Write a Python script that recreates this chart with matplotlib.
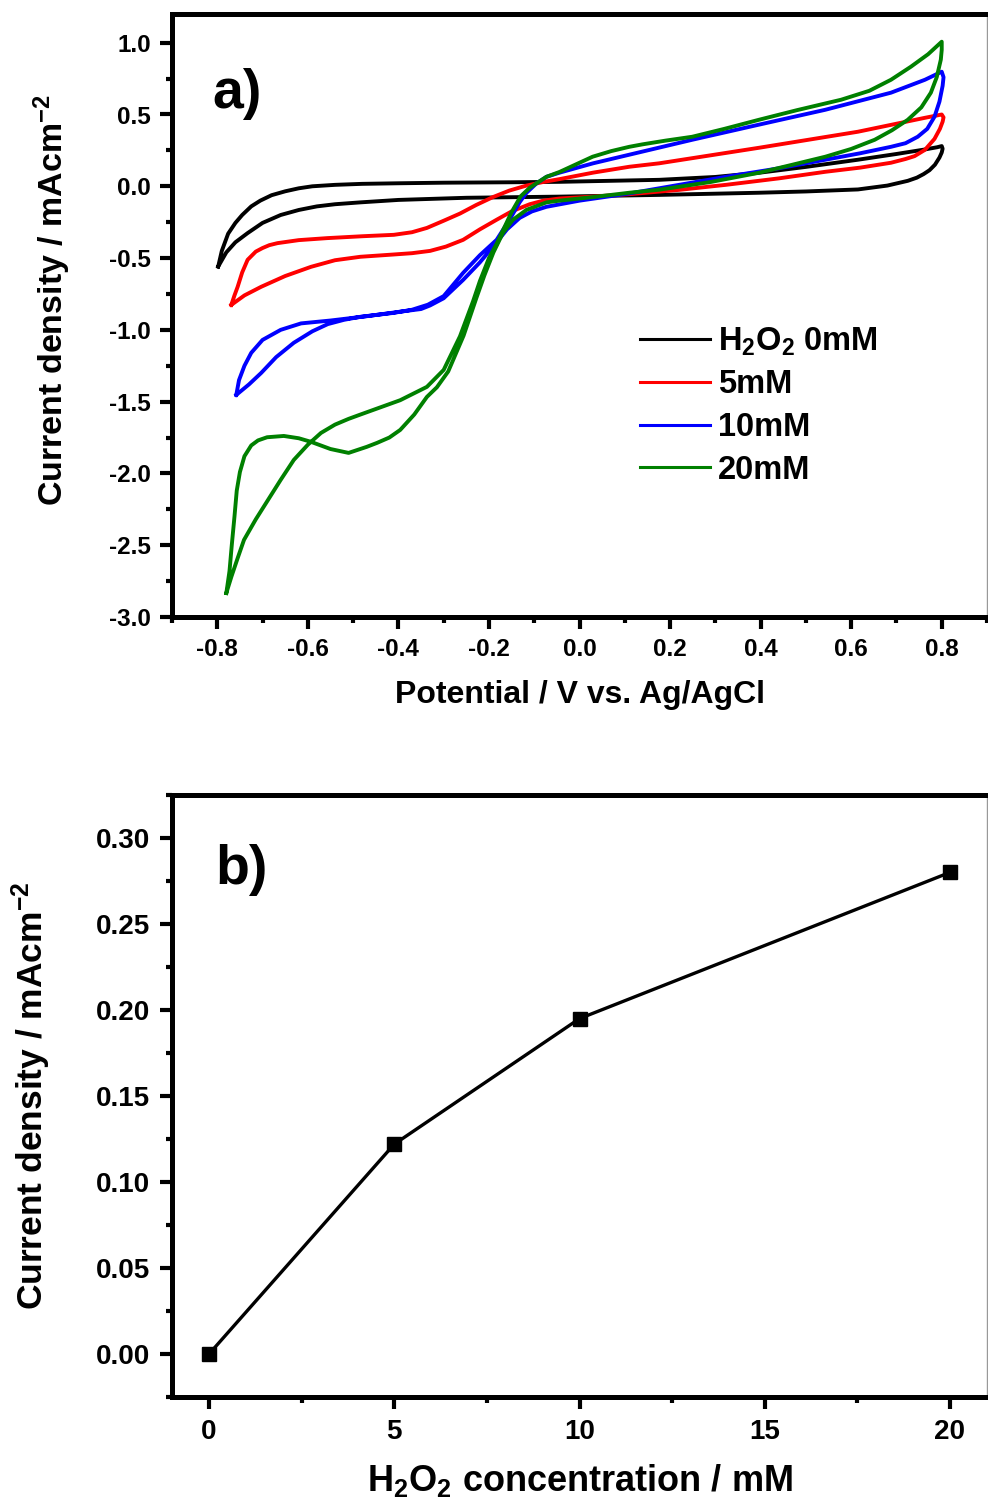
import numpy as np
import matplotlib
matplotlib.use("Agg")
import matplotlib.pyplot as plt
from matplotlib.ticker import MultipleLocator, FormatStrFormatter

plt.rcParams["font.family"] = ["Liberation Sans", "DejaVu Sans"]
plt.rcParams["font.weight"] = "bold"
plt.rcParams["axes.unicode_minus"] = False
plt.rcParams["mathtext.fontset"] = "custom"
plt.rcParams["mathtext.rm"] = "Liberation Sans:bold"
plt.rcParams["mathtext.bf"] = "Liberation Sans:bold"
plt.rcParams["mathtext.it"] = "Liberation Sans:bold"
plt.rcParams["mathtext.default"] = "rm"

cv_labels = ["H$_2$O$_2$ 0mM", "5mM", "10mM", "20mM"]
cv_colors = ["#000000", "#ff0000", "#0000ff", "#008000"]

cv0_x = [-0.798, -0.790, -0.776, -0.760, -0.745, -0.725, -0.705, -0.68, -0.65, -0.62, -0.59,
         -0.54, -0.48, -0.40, -0.30, -0.15, -0.044, 0.176, 0.30, 0.396, 0.50,
         0.615, 0.70, 0.76, 0.790, 0.800,
         0.802, 0.800, 0.795, 0.785, 0.773, 0.760, 0.745, 0.725, 0.68, 0.615, 0.50, 0.396,
         0.176, -0.044, -0.25, -0.40, -0.484, -0.54, -0.58, -0.62, -0.66, -0.70, -0.733,
         -0.760, -0.780, -0.798]
cv0_y = [-0.559, -0.45, -0.330, -0.255, -0.200, -0.140, -0.100, -0.062, -0.035, -0.014, 0.000,
         0.010, 0.017, 0.021, 0.025, 0.028, 0.031, 0.045, 0.065, 0.094, 0.135,
         0.185, 0.225, 0.255, 0.272, 0.280,
         0.262, 0.235, 0.200, 0.150, 0.112, 0.085, 0.060, 0.038, 0.005, -0.022, -0.036, -0.045,
         -0.060, -0.072, -0.080, -0.095, -0.112, -0.125, -0.140, -0.165, -0.200, -0.255, -0.326,
         -0.390, -0.460, -0.559]

cv5_x = [-0.769, -0.762, -0.755, -0.745, -0.733, -0.715, -0.700, -0.685, -0.667, -0.62, -0.557,
         -0.48, -0.410, -0.370, -0.337, -0.300, -0.264, -0.228, -0.191, -0.155,
         -0.117, -0.080, -0.044, 0.030, 0.110, 0.176, 0.396, 0.615, 0.763, 0.800,
         0.804, 0.802, 0.796, 0.784, 0.763, 0.740, 0.720, 0.688, 0.620, 0.543, 0.440, 0.323,
         0.220, 0.110, 0.030, -0.044, -0.080, -0.110, -0.150,
         -0.183, -0.220, -0.257, -0.295, -0.330, -0.370, -0.410, -0.484, -0.540, -0.593,
         -0.650, -0.703, -0.740, -0.769]
cv5_y = [-0.826, -0.760, -0.700, -0.600, -0.512, -0.455, -0.430, -0.410, -0.396, -0.375, -0.361,
         -0.348, -0.338, -0.320, -0.290, -0.240, -0.190, -0.130, -0.075, -0.030,
         0.005, 0.030, 0.050, 0.095, 0.136, 0.160, 0.268, 0.380, 0.477, 0.500,
         0.480, 0.450, 0.400, 0.330, 0.254, 0.210, 0.190, 0.164, 0.130, 0.101, 0.055, 0.010,
         -0.025, -0.055, -0.072, -0.085, -0.100, -0.125, -0.175,
         -0.233, -0.300, -0.373, -0.420, -0.450, -0.466, -0.475, -0.491, -0.515, -0.561,
         -0.625, -0.700, -0.760, -0.826]

cv10_x = [-0.758, -0.730, -0.703, -0.670, -0.631, -0.590, -0.556, -0.520, -0.484, -0.411,
          -0.370, -0.335, -0.300, -0.257, -0.220, -0.183, -0.154, -0.132, -0.117, -0.095,
          -0.073, -0.044, 0.030, 0.110, 0.249, 0.396, 0.543, 0.688, 0.763, 0.800,
          0.804, 0.802, 0.795, 0.784, 0.768, 0.747, 0.720, 0.688, 0.620, 0.543, 0.440, 0.323,
          0.220, 0.110, 0.000, -0.073, -0.105, -0.132, -0.160, -0.183, -0.220, -0.257,
          -0.300, -0.330, -0.350, -0.400, -0.470, -0.550, -0.615, -0.660, -0.700, -0.725,
          -0.740, -0.752, -0.758]
cv10_y = [-1.453, -1.380, -1.300, -1.190, -1.090, -1.010, -0.960, -0.930, -0.909, -0.882,
          -0.860, -0.825, -0.765, -0.603, -0.480, -0.373, -0.230, -0.110, -0.045, 0.020,
          0.066, 0.095, 0.160, 0.220, 0.324, 0.429, 0.533, 0.652, 0.742, 0.798,
          0.760, 0.700, 0.590, 0.484, 0.400, 0.345, 0.300, 0.275, 0.230, 0.185, 0.125, 0.066,
          0.010, -0.050, -0.100, -0.143, -0.175, -0.220, -0.300, -0.390, -0.530, -0.652,
          -0.780, -0.830, -0.855, -0.875, -0.905, -0.935, -0.955, -1.000, -1.070, -1.160,
          -1.250, -1.350, -1.453]

cv20_x = [-0.780, -0.769, -0.755, -0.741, -0.715, -0.688, -0.660, -0.631, -0.600, -0.571,
          -0.540, -0.510, -0.484, -0.440, -0.396, -0.337, -0.300, -0.264, -0.235, -0.220,
          -0.200, -0.183, -0.165, -0.150, -0.130, -0.110, -0.073, -0.044, 0.000, 0.029,
          0.070, 0.110, 0.139, 0.190, 0.249, 0.320, 0.396, 0.480, 0.578, 0.640, 0.688, 0.732,
          0.770, 0.800,
          0.800, 0.798, 0.789, 0.776, 0.755, 0.725, 0.690, 0.652, 0.600, 0.543, 0.470, 0.396,
          0.290, 0.176, 0.110, 0.030, -0.044, -0.073, -0.117, -0.147, -0.169, -0.190,
          -0.210, -0.228, -0.256, -0.290, -0.315, -0.337, -0.365, -0.396, -0.420, -0.447,
          -0.470, -0.510, -0.550, -0.593, -0.620, -0.653, -0.690, -0.710, -0.725, -0.740,
          -0.750, -0.757, -0.762, -0.768, -0.773, -0.780]
cv20_y = [-2.833, -2.721, -2.590, -2.463, -2.320, -2.185, -2.045, -1.906, -1.800, -1.718,
          -1.660, -1.620, -1.590, -1.540, -1.490, -1.397, -1.279, -1.045, -0.800, -0.660,
          -0.500, -0.400, -0.280, -0.180, -0.070, -0.010, 0.066, 0.100, 0.164, 0.206,
          0.245, 0.275, 0.292, 0.318, 0.345, 0.400, 0.463, 0.530, 0.603, 0.665, 0.742, 0.833,
          0.920, 1.007,
          0.950, 0.882, 0.760, 0.652, 0.550, 0.463, 0.390, 0.324, 0.260, 0.206, 0.150, 0.094,
          0.030, -0.024, -0.045, -0.075, -0.100, -0.112, -0.164, -0.233, -0.324, -0.460,
          -0.620, -0.780, -1.040, -1.290, -1.400, -1.467, -1.590, -1.697, -1.750, -1.787,
          -1.815, -1.857, -1.830, -1.780, -1.755, -1.739, -1.748, -1.770, -1.805, -1.880,
          -1.990, -2.120, -2.300, -2.500, -2.680, -2.833]

cv_x = [cv0_x, cv5_x, cv10_x, cv20_x]
cv_y = [cv0_y, cv5_y, cv10_y, cv20_y]

# ── panel b: calibration ─────────────────────────────────────────────────────
conc = [0, 5, 10, 20]
current = [0.000, 0.122, 0.195, 0.280]


def style_axes(ax, labelsize, pad):
    for side in ("left", "bottom", "top"):
        ax.spines[side].set_linewidth(3.6)
    ax.spines["right"].set_linewidth(1.0)
    ax.spines["right"].set_color("#999999")
    ax.tick_params(which="major", direction="out", length=8.5, width=3.0,
                   labelsize=labelsize, pad=pad, top=False, right=False)
    ax.tick_params(which="minor", direction="out", length=4.5, width=3.0,
                   top=False, right=False)
    for lab in ax.get_xticklabels() + ax.get_yticklabels():
        lab.set_fontweight("bold")


fig = plt.figure(figsize=(9.88, 15.11), dpi=100)
W, H = 988, 1511
ax1 = fig.add_axes([172 / W, 1 - 617 / H, 815 / W, 603 / H])
ax2 = fig.add_axes([172 / W, 1 - 1397 / H, 815 / W, 602 / H])

for x, y, c, lab in zip(cv_x, cv_y, cv_colors, cv_labels):
    ax1.plot(x, y, color=c, lw=2.8, label=lab, solid_joinstyle="round")

ax1.set_xlim(-0.9, 0.9)
ax1.set_ylim(-3.0, 1.2)
ax1.xaxis.set_major_locator(MultipleLocator(0.2))
ax1.xaxis.set_minor_locator(MultipleLocator(0.1))
ax1.yaxis.set_major_locator(MultipleLocator(0.5))
ax1.yaxis.set_minor_locator(MultipleLocator(0.25))
ax1.set_xticks([-0.8, -0.6, -0.4, -0.2, 0.0, 0.2, 0.4, 0.6, 0.8])
ax1.xaxis.set_major_formatter(FormatStrFormatter("%.1f"))
ax1.yaxis.set_major_formatter(FormatStrFormatter("%.1f"))
style_axes(ax1, 17.5, 6.5)
ax1.set_xlabel("Potential / V vs. Ag/AgCl", fontsize=23, fontweight="bold", va="top")
ax1.xaxis.set_label_coords(0.5, -0.105)
ax1.set_ylabel("Current density / mAcm$^{-2}$", fontsize=24.5, fontweight="bold")
ax1.yaxis.set_label_coords(-0.122, 0.525)
ax1.text(0.050, 0.844, "a)", transform=ax1.transAxes, fontsize=40,
         fontweight="bold", va="baseline", ha="left")

leg = ax1.legend(loc="upper left", bbox_to_anchor=((640 - 172) / 815, 0.484),
                 frameon=False, fontsize=23.5, handlelength=2.15, handletextpad=0.25,
                 labelspacing=0.36, borderpad=0, borderaxespad=0)
for t in leg.get_texts():
    t.set_fontweight("bold")
for h in leg.get_lines():
    h.set_linewidth(2.2)

ax2.plot(conc, current, color="black", lw=2.4, marker="s", markersize=10)
ax2.set_xlim(-1, 21)
ax2.set_ylim(-0.025, 0.325)
ax2.xaxis.set_major_locator(MultipleLocator(5))
ax2.xaxis.set_minor_locator(MultipleLocator(2.5))
ax2.yaxis.set_major_locator(MultipleLocator(0.05))
ax2.yaxis.set_minor_locator(MultipleLocator(0.025))
ax2.set_xticks([0, 5, 10, 15, 20])
ax2.set_yticks([0.0, 0.05, 0.10, 0.15, 0.20, 0.25, 0.30])
ax2.yaxis.set_major_formatter(FormatStrFormatter("%.2f"))
style_axes(ax2, 20, 7)
ax2.set_xlabel("H$_2$O$_2$ concentration / mM", fontsize=26, fontweight="bold", va="top")
ax2.xaxis.set_label_coords(0.5, -0.108)
ax2.set_ylabel("Current density / mAcm$^{-2}$", fontsize=25.5, fontweight="bold")
ax2.yaxis.set_label_coords(-0.146, 0.5)
ax2.text(0.053, 0.852, "b)", transform=ax2.transAxes, fontsize=40,
         fontweight="bold", va="baseline", ha="left")

fig.savefig("out.png", dpi=100)
